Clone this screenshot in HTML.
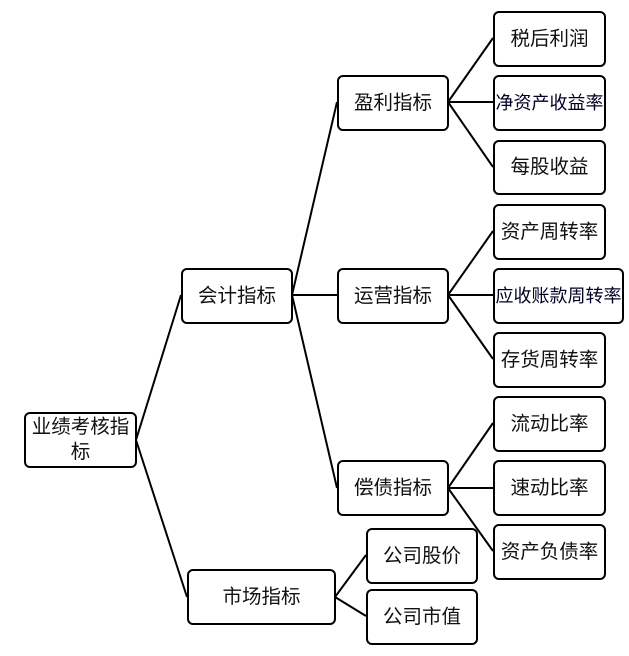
<!DOCTYPE html>
<html><head><meta charset="utf-8"><style>
body{margin:0;width:629px;height:656px;background:#fff;position:relative;overflow:hidden;font-family:"Liberation Sans","Noto Sans CJK SC",sans-serif;}
.b{position:absolute;box-sizing:border-box;border:2px solid #000;border-radius:6px;background:#fff;display:flex;align-items:center;justify-content:center;text-align:center;font-size:19.5px;line-height:25px;color:#111;white-space:nowrap;}
.s{font-size:18px;color:#002;}
svg{position:absolute;left:0;top:0}
</style></head><body>
<svg width="629" height="656" stroke="#000" stroke-width="2" fill="none">
<path d="M136 440L181 295M136 440L187 597M292 295L337 102M292 295L337 295M292 295L337 488M448 102L493 38M448 102L493 102M448 102L493 167M448 295L493 231M448 295L493 295M448 295L493 359M448 488L493 423M448 488L493 488M448 488L493 551M335 597L366 555M335 597L366 616"/>
</svg>
<div class="b" style="left:24px;top:412px;width:113px;height:56px">业绩考核指<br>标</div>
<div class="b" style="left:181px;top:268px;width:112px;height:56px">会计指标</div>
<div class="b" style="left:187px;top:569px;width:149px;height:56px">市场指标</div>
<div class="b" style="left:337px;top:75px;width:112px;height:56px">盈利指标</div>
<div class="b" style="left:337px;top:268px;width:112px;height:56px">运营指标</div>
<div class="b" style="left:337px;top:460px;width:112px;height:56px">偿债指标</div>
<div class="b" style="left:493px;top:11px;width:113px;height:56px">税后利润</div>
<div class="b s" style="left:493px;top:75px;width:113px;height:56px">净资产收益率</div>
<div class="b" style="left:493px;top:140px;width:113px;height:55px">每股收益</div>
<div class="b" style="left:493px;top:204px;width:113px;height:56px">资产周转率</div>
<div class="b s" style="left:493px;top:268px;width:131px;height:56px">应收账款周转率</div>
<div class="b" style="left:493px;top:332px;width:113px;height:56px">存货周转率</div>
<div class="b" style="left:493px;top:396px;width:113px;height:56px">流动比率</div>
<div class="b" style="left:493px;top:460px;width:113px;height:56px">速动比率</div>
<div class="b" style="left:493px;top:524px;width:113px;height:56px">资产负债率</div>
<div class="b" style="left:366px;top:528px;width:112px;height:56px">公司股价</div>
<div class="b" style="left:366px;top:589px;width:112px;height:56px">公司市值</div>
</body></html>
